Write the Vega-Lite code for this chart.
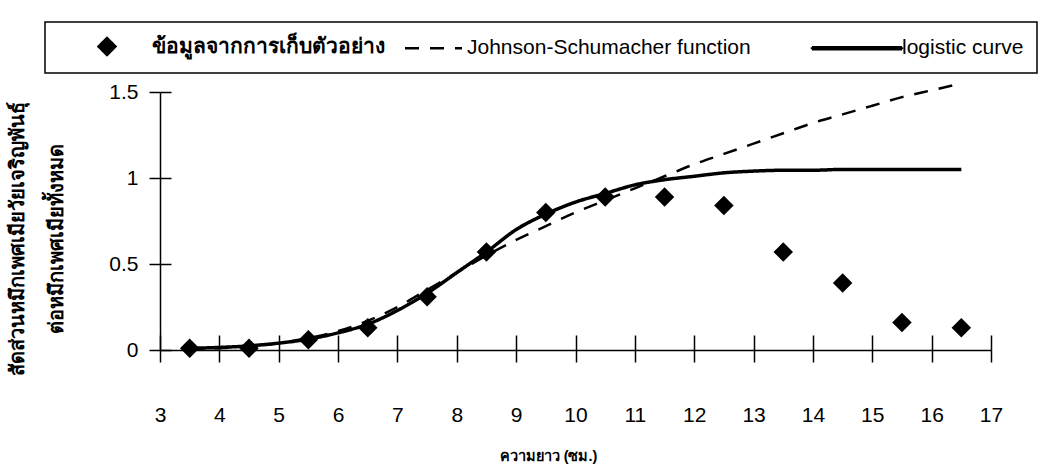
{
  "$schema": "https://vega.github.io/schema/vega-lite/v6.json",
  "width": 831,
  "height": 258,
  "autosize": {"type": "none"},
  "padding": {"left": 160, "top": 92, "right": 58, "bottom": 115},
  "background": "white",
  "config": {"view": {"stroke": null}, "font": "Liberation Sans"},
  "datasets": {
    "samples": [
      {"x": 3.5, "y": 0.01}, {"x": 4.5, "y": 0.01}, {"x": 5.5, "y": 0.06}, {"x": 6.5, "y": 0.13},
      {"x": 7.5, "y": 0.31}, {"x": 8.5, "y": 0.57}, {"x": 9.5, "y": 0.80}, {"x": 10.5, "y": 0.89},
      {"x": 11.5, "y": 0.89}, {"x": 12.5, "y": 0.84}, {"x": 13.5, "y": 0.57}, {"x": 14.5, "y": 0.39},
      {"x": 15.5, "y": 0.16}, {"x": 16.5, "y": 0.13}
    ],
    "curves": [
      {"series": "Johnson-Schumacher function", "x": 3.5, "y": 0.0},
      {"series": "Johnson-Schumacher function", "x": 4, "y": 0.01},
      {"series": "Johnson-Schumacher function", "x": 4.5, "y": 0.02},
      {"series": "Johnson-Schumacher function", "x": 5, "y": 0.04},
      {"series": "Johnson-Schumacher function", "x": 5.5, "y": 0.07},
      {"series": "Johnson-Schumacher function", "x": 6, "y": 0.11},
      {"series": "Johnson-Schumacher function", "x": 6.5, "y": 0.17},
      {"series": "Johnson-Schumacher function", "x": 7, "y": 0.25},
      {"series": "Johnson-Schumacher function", "x": 7.5, "y": 0.35},
      {"series": "Johnson-Schumacher function", "x": 8, "y": 0.45},
      {"series": "Johnson-Schumacher function", "x": 8.5, "y": 0.55},
      {"series": "Johnson-Schumacher function", "x": 9, "y": 0.64},
      {"series": "Johnson-Schumacher function", "x": 9.5, "y": 0.72},
      {"series": "Johnson-Schumacher function", "x": 10, "y": 0.80},
      {"series": "Johnson-Schumacher function", "x": 10.5, "y": 0.87},
      {"series": "Johnson-Schumacher function", "x": 11, "y": 0.94},
      {"series": "Johnson-Schumacher function", "x": 11.5, "y": 1.01},
      {"series": "Johnson-Schumacher function", "x": 12, "y": 1.08},
      {"series": "Johnson-Schumacher function", "x": 12.5, "y": 1.14},
      {"series": "Johnson-Schumacher function", "x": 13, "y": 1.20},
      {"series": "Johnson-Schumacher function", "x": 13.5, "y": 1.26},
      {"series": "Johnson-Schumacher function", "x": 14, "y": 1.32},
      {"series": "Johnson-Schumacher function", "x": 14.5, "y": 1.37},
      {"series": "Johnson-Schumacher function", "x": 15, "y": 1.42},
      {"series": "Johnson-Schumacher function", "x": 15.5, "y": 1.47},
      {"series": "Johnson-Schumacher function", "x": 16, "y": 1.51},
      {"series": "Johnson-Schumacher function", "x": 16.5, "y": 1.55},
      {"series": "logistic curve", "x": 3.5, "y": 0.01},
      {"series": "logistic curve", "x": 4, "y": 0.015},
      {"series": "logistic curve", "x": 4.5, "y": 0.024},
      {"series": "logistic curve", "x": 5, "y": 0.04},
      {"series": "logistic curve", "x": 5.5, "y": 0.063},
      {"series": "logistic curve", "x": 6, "y": 0.10},
      {"series": "logistic curve", "x": 6.5, "y": 0.15},
      {"series": "logistic curve", "x": 7, "y": 0.23},
      {"series": "logistic curve", "x": 7.5, "y": 0.33},
      {"series": "logistic curve", "x": 8, "y": 0.45},
      {"series": "logistic curve", "x": 8.5, "y": 0.57},
      {"series": "logistic curve", "x": 9, "y": 0.70},
      {"series": "logistic curve", "x": 9.5, "y": 0.79},
      {"series": "logistic curve", "x": 10, "y": 0.86},
      {"series": "logistic curve", "x": 10.5, "y": 0.91},
      {"series": "logistic curve", "x": 11, "y": 0.96},
      {"series": "logistic curve", "x": 11.5, "y": 0.99},
      {"series": "logistic curve", "x": 12, "y": 1.01},
      {"series": "logistic curve", "x": 12.5, "y": 1.03},
      {"series": "logistic curve", "x": 13, "y": 1.04},
      {"series": "logistic curve", "x": 13.5, "y": 1.045},
      {"series": "logistic curve", "x": 14, "y": 1.045},
      {"series": "logistic curve", "x": 14.5, "y": 1.05},
      {"series": "logistic curve", "x": 15, "y": 1.05},
      {"series": "logistic curve", "x": 15.5, "y": 1.05},
      {"series": "logistic curve", "x": 16, "y": 1.05},
      {"series": "logistic curve", "x": 16.5, "y": 1.05}
    ]
  },
  "resolve": {"axis": {"x": "independent", "y": "independent"}},
  "layer": [
    {
      "data": {"name": "curves"},
      "mark": {"type": "line", "interpolate": "monotone", "color": "black"},
      "encoding": {
        "x": {
          "field": "x", "type": "quantitative",
          "scale": {"domain": [3, 17], "nice": false, "zero": false},
          "axis": {
            "orient": "bottom",
            "title": "ความยาว (ซม.)",
            "values": [3, 4, 5, 6, 7, 8, 9, 10, 11, 12, 13, 14, 15, 16, 17],
            "grid": false,
            "domainColor": "black", "domainWidth": 1.5,
            "tickColor": "black", "tickWidth": 1.5, "tickSize": 12,
            "labelFontSize": 21, "labelColor": "black", "labelPadding": 42,
            "labelFlush": false, "labelOverlap": false,
            "titleFontSize": 14.5, "titleFontWeight": "bold", "titleColor": "black",
            "titleX": 388, "titleY": 110, "titleAlign": "center", "titleBaseline": "alphabetic"
          }
        },
        "y": {
          "field": "y", "type": "quantitative",
          "scale": {"domain": [0, 1.5], "nice": false},
          "axis": {
            "orient": "left",
            "title": ["สัดส่วนหมึกเพศเมียวัยเจริญพันธุ์", "ต่อหมึกเพศเมียทั้งหมด"],
            "values": [0, 0.5, 1, 1.5],
            "format": "~g",
            "grid": false,
            "domainColor": "black", "domainWidth": 1.5,
            "tickColor": "black", "tickWidth": 1.5, "tickSize": 11,
            "labelFontSize": 21, "labelColor": "black", "labelPadding": 11,
            "titleFontSize": 20, "titleFontWeight": "bold", "titleColor": "black",
            "titleLineHeight": 39,
            "titleAngle": -90, "titleX": -153, "titleY": 146,
            "titleAlign": "center", "titleBaseline": "top"
          }
        },
        "strokeDash": {
          "field": "series", "type": "nominal",
          "scale": {
            "domain": ["ข้อมูลจากการเก็บตัวอย่าง", "Johnson-Schumacher function", "logistic curve"],
            "range": [[1, 0], [14, 11], [1, 0]]
          },
          "legend": {
            "title": null,
            "orient": "none", "legendX": -115, "legendY": -70,
            "direction": "horizontal", "columns": 3,
            "strokeColor": "black", "fillColor": "white",
            "padding": 13,
            "symbolType": "stroke", "symbolSize": 400, "symbolStrokeColor": "black",
            "labelFontSize": 21, "labelColor": "black", "labelLimit": 500,
            "labelOffset": 71, "columnPadding": 0,
            "encode": {
              "legend": {"update": {"strokeWidth": {"value": 1.5}}},
              "labels": {"update": {
                "fontWeight": [{"test": "datum.label === 'ข้อมูลจากการเก็บตัวอย่าง'", "value": "bold"}, {"value": "normal"}],
                "x": [
                  {"test": "datum.label === 'Johnson-Schumacher function'", "value": 82},
                  {"test": "datum.label === 'logistic curve'", "value": 151},
                  {"value": 94}
                ]
              }},
              "symbols": {"update": {
                "shape": [
                  {"test": "datum.label === 'ข้อมูลจากการเก็บตัวอย่าง'", "value": "M-0.85,0L0,-0.85L0.85,0L0,0.85Z"},
                  {"test": "datum.label === 'logistic curve'", "value": "M-4.5,-0.1L4.5,-0.1L4.5,0.1L-4.5,0.1Z"},
                  {"value": "M-2.85,0L2.85,0"}
                ],
                "size": {"value": 400},
                "x": [
                  {"test": "datum.label === 'Johnson-Schumacher function'", "value": 48.5},
                  {"test": "datum.label === 'logistic curve'", "value": 106},
                  {"value": 49}
                ],
                "fill": [{"test": "datum.label === 'Johnson-Schumacher function'", "value": "transparent"}, {"value": "black"}],
                "stroke": {"value": "black"},
                "strokeWidth": {"value": 2.5}
              }}
            }
          }
        },
        "strokeWidth": {
          "field": "series", "type": "nominal",
          "scale": {"domain": ["Johnson-Schumacher function", "logistic curve"], "range": [2.5, 3.5]},
          "legend": null
        }
      }
    },
    {
      "data": {"name": "samples"},
      "mark": {"type": "point", "shape": "diamond", "filled": true, "color": "black", "opacity": 1, "size": 380},
      "encoding": {
        "x": {
          "field": "x", "type": "quantitative",
          "axis": {
            "orient": "bottom", "title": null,
            "values": [3, 4, 5, 6, 7, 8, 9, 10, 11, 12, 13, 14, 15, 16, 17],
            "grid": false, "domain": false, "labels": false,
            "tickColor": "black", "tickWidth": 1.5, "tickSize": -15
          }
        },
        "y": {
          "field": "y", "type": "quantitative",
          "axis": {
            "orient": "left", "title": null,
            "values": [0, 0.5, 1, 1.5],
            "grid": false, "domain": false, "labels": false,
            "tickColor": "black", "tickWidth": 1.5, "tickSize": -11
          }
        }
      }
    }
  ]
}
